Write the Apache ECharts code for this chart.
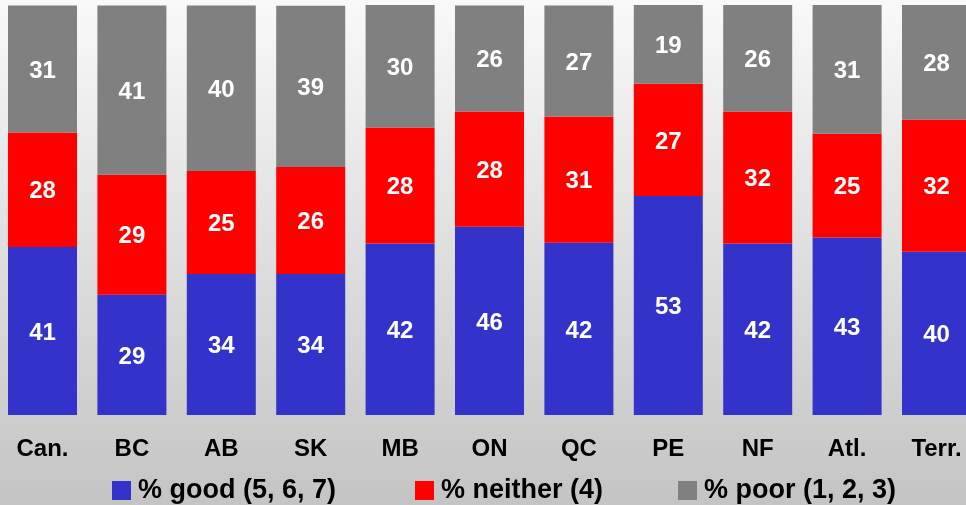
<!DOCTYPE html>
<html>
<head>
<meta charset="utf-8">
<script src="https://cdn.jsdelivr.net/npm/echarts@6/dist/echarts.min.js"></script>
<style>
	html, body { margin: 0; padding: 0; }
	#chart { width: 966px; height: 505px; }
</style>
</head>
<body>
<div id="chart"></div>
<script>
var regions = ['Can.', 'BC', 'AB', 'SK', 'MB', 'ON', 'QC', 'PE', 'NF', 'Atl.', 'Terr.'];
var goodVals = [41.0, 29.3, 34.4, 34.4, 41.8, 45.9, 42.0, 53.4, 41.8, 43.3, 39.8];
var neitherVals = [27.9, 29.3, 25.1, 26.1, 28.3, 28.1, 30.8, 27.4, 32.2, 25.3, 32.3];
var poorVals = [31.0, 41.3, 40.4, 39.3, 29.9, 25.9, 27.1, 19.2, 26.0, 31.4, 27.9];
var seriesNames = ['% good (5, 6, 7)', '% neither (4)', '% poor (1, 2, 3)'];

var chart = echarts.init(document.getElementById('chart'));
var font = '"Liberation Sans", Arial, sans-serif';

function barSeries(name, vals) {
	return {
		name: name,
		type: 'bar',
		stack: 'all',
		barWidth: 69,
		clip: false,
		data: vals,
		label: {
			show: true,
			position: 'inside',
			offset: [0, 2],
			color: '#fff',
			fontWeight: 'bold',
			fontSize: 24,
			fontFamily: font,
			formatter: function(p) {
				return Math.round(p.value);
			}
		}
	};
}

// one legend per item so each sits where the original has it
function legendAt(name, left) {
	return {
		data: [name],
		left: left,
		top: 477,
		padding: 0,
		itemWidth: 19,
		itemHeight: 19,
		icon: 'rect',
		textStyle: {
			color: '#000',
			fontWeight: 'bold',
			fontSize: 27,
			fontFamily: font,
			padding: [0, 0, 0, 2]
		}
	};
}

var option = {
	animation: false,
	backgroundColor: {
		type: 'linear', x: 0, y: 0, x2: 0, y2: 1,
		colorStops: [
			{ offset: 0, color: '#f9f9f9' },
			{ offset: 1, color: '#c4c4c4' }
		]
	},
	color: ['#3333CC', '#FF0000', '#808080'],
	grid: {
		left: 42.5,
		right: 29.5,
		top: 5,
		bottom: 90
	},
	legend: [
		legendAt(seriesNames[0], 112),
		legendAt(seriesNames[1], 415),
		legendAt(seriesNames[2], 678)
	],
	xAxis: {
		type: 'category',
		boundaryGap: false,
		data: regions,
		axisLine: { show: false },
		axisTick: { show: false },
		splitLine: { show: false },
		axisLabel: {
			margin: 22,
			color: '#000',
			fontWeight: 'bold',
			fontSize: 24,
			fontFamily: font
		}
	},
	yAxis: {
		type: 'value',
		min: 0,
		max: 100,
		show: false,
		splitLine: { show: false }
	},
	series: [
		barSeries(seriesNames[0], goodVals),
		barSeries(seriesNames[1], neitherVals),
		barSeries(seriesNames[2], poorVals)
	]
};
chart.setOption(option);
</script>
</body>
</html>
